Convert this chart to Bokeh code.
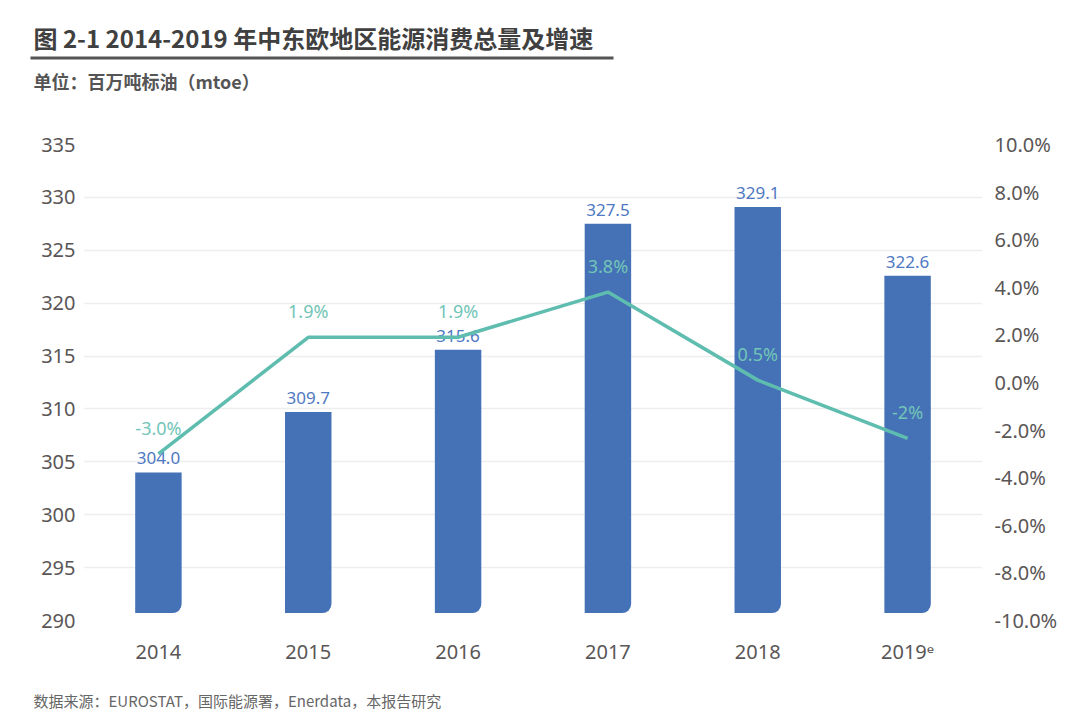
from bokeh.plotting import figure
from bokeh.layouts import column
from bokeh.models import (Range1d, LinearAxis, FixedTicker, CustomJSTickFormatter,
                          ColumnDataSource, FactorRange)
from bokeh.core.properties import value
from bokeh.embed import file_html
from bokeh.resources import INLINE

years = ["2014", "2015", "2016", "2017", "2018", "2019ᵉ"]
consumption = [304.0, 309.7, 315.6, 327.5, 329.1, 322.6]
consumption_labels = ["304.0", "309.7", "315.6", "327.5", "329.1", "322.6"]
growth = [-3.0, 1.9, 1.9, 3.8, 0.1, -2.35]
growth_labels = ["-3.0%", "1.9%", "1.9%", "3.8%", "0.5%", "-2%"]
left_ticks = [290, 295, 300, 305, 310, 315, 320, 325, 330, 335]
right_ticks = [-10, -8, -6, -4, -2, 0, 2, 4, 6, 8, 10]

title = "图 2-1 2014-2019 年中东欧地区能源消费总量及增速"
subtitle = "单位：百万吨标油（mtoe）"
footer = "数据来源：EUROSTAT，国际能源署，Enerdata，本报告研究"

BAR = "#4572b6"
BAR_TXT = "#4f79c3"
LINE = "#5ebdaf"
LINE_TXT = "#72c5b7"
TICK = "#5a5656"
GRID = "#eeeeee"
FONT = "Noto Sans"
CJK = "Noto Sans CJK SC"

W = 1080
HEAD_H, MAIN_H, FOOT_H = 100, 580, 46


def blank(h, y0):
    f = figure(width=W, height=h, x_range=Range1d(0, W), y_range=Range1d(y0 + h, y0),
               output_backend="svg", toolbar_location=None, frame_align=False,
               min_border_left=0, min_border_right=0, min_border_top=0, min_border_bottom=0)
    f.axis.visible = False
    f.grid.visible = False
    f.outline_line_color = None
    return f


# header
head = blank(HEAD_H, 0)
head.text(x=[33], y=[37], text=[title], text_font=value(CJK), text_font_style="bold",
          text_font_size="24px", text_color="#404040", text_baseline="middle")
head.line(x=[30, 613], y=[57.5, 57.5], line_color="#555555", line_width=3)
head.text(x=[33], y=[80], text=[subtitle], text_font=value(CJK), text_font_style="bold",
          text_font_size="18px", text_color="#555555", text_baseline="middle")

# main chart
src = ColumnDataSource(dict(x=years, y=consumption, lab=consumption_labels,
                            g=growth, glab=growth_labels))

p = figure(width=W, height=MAIN_H, x_range=FactorRange(*years), y_range=Range1d(290, 335),
           output_backend="svg", toolbar_location=None, frame_align=False,
           min_border_left=83, min_border_right=98, min_border_top=44, min_border_bottom=60)
p.outline_line_color = None
p.extra_y_ranges = {"g": Range1d(-10, 10)}

p.xgrid.grid_line_color = None
p.ygrid.grid_line_color = GRID
p.ygrid.grid_line_width = 1.5
p.ygrid.ticker = FixedTicker(ticks=left_ticks)

p.vbar(x="x", top="y", bottom=290.7, width=0.31, source=src, fill_color=BAR,
       line_color=None, border_radius=(0, 0, 9, 0))

p.text(x="x", y="y", text="lab", source=src, text_align="center", text_baseline="bottom",
       y_offset=-8, text_color=BAR_TXT, text_font=value(FONT), text_font_size="17px")

p.line(x="x", y="g", source=src, y_range_name="g", line_color=LINE, line_width=3.5)
p.text(x="x", y="g", text="glab", source=src, y_range_name="g", text_align="center",
       text_baseline="bottom", y_offset=-14, text_color=LINE_TXT, text_font=value(FONT),
       text_font_size="18px")

for ax in [p.xaxis[0], p.yaxis[0]]:
    ax.axis_line_color = None
    ax.major_tick_line_color = None
    ax.minor_tick_line_color = None
    ax.major_label_text_color = TICK
    ax.major_label_text_font = FONT
    ax.major_label_text_font_size = "20px"

p.xaxis.major_label_standoff = 11
p.yaxis[0].ticker = FixedTicker(ticks=left_ticks)
p.yaxis[0].major_label_standoff = 2

ra = LinearAxis(y_range_name="g", ticker=FixedTicker(ticks=right_ticks),
                formatter=CustomJSTickFormatter(code="return tick.toFixed(1) + '%';"))
ra.axis_line_color = None
ra.major_tick_line_color = None
ra.minor_tick_line_color = None
ra.major_label_text_color = TICK
ra.major_label_text_font = FONT
ra.major_label_text_font_size = "20px"
ra.major_label_text_align = "center"
ra.major_label_standoff = 6
p.add_layout(ra, "right")

# footer
foot = blank(FOOT_H, HEAD_H + MAIN_H)
foot.text(x=[33], y=[700], text=[footer], text_font=value(CJK), text_font_size="15px",
          text_color="#666666", text_baseline="middle")

layout = column(head, p, foot, spacing=0)
open("out.html", "w").write(file_html(layout, INLINE))
